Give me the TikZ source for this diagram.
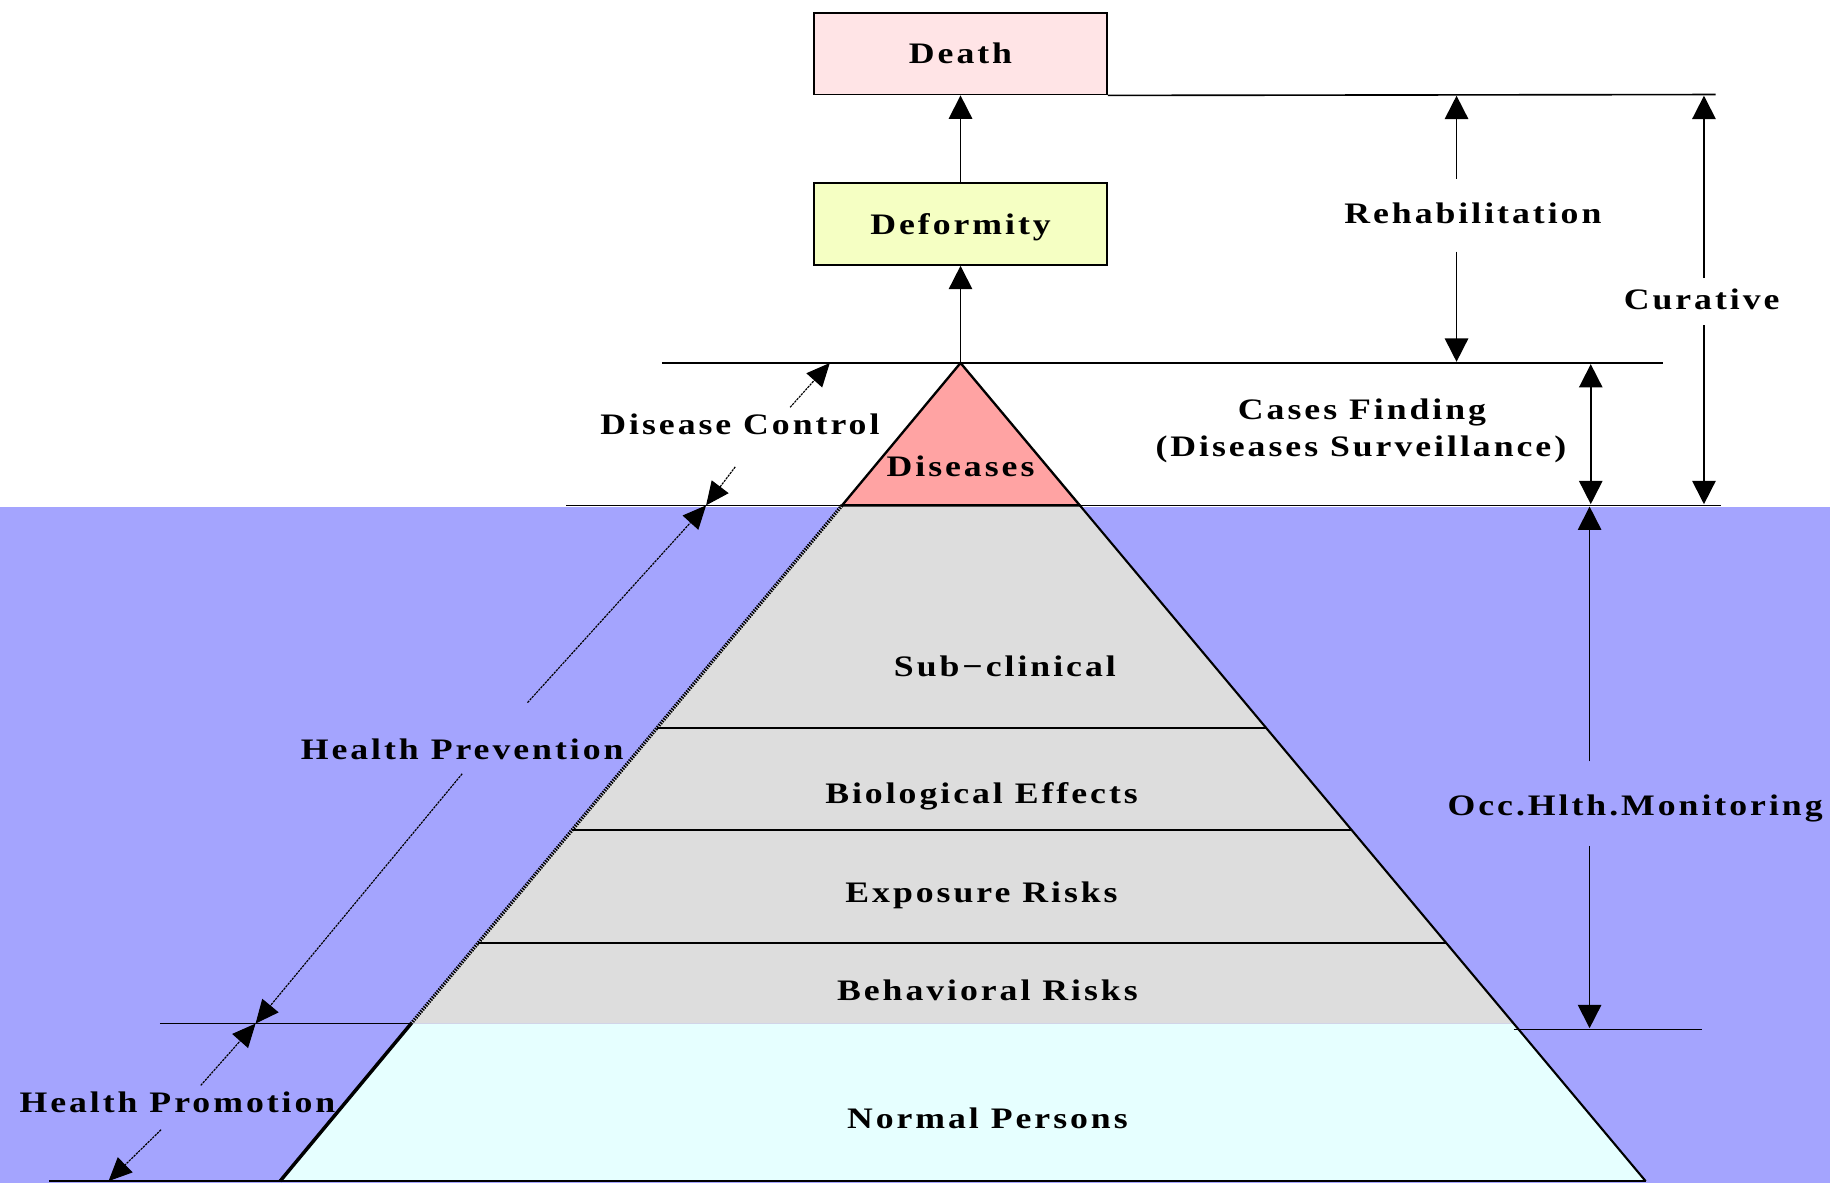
\documentclass[tikz,border=0pt]{standalone}
\usepackage{fontspec}
\setmainfont{Liberation Serif}[LetterSpace=10, FakeStretch=1.2]
\usetikzlibrary{arrows.meta}
\usetikzlibrary{positioning}

\definecolor{waterblue}{RGB}{164,164,254}
\definecolor{diseasepink}{RGB}{255,163,163}
\definecolor{layergrey}{RGB}{221,221,221}
\definecolor{normalcyan}{RGB}{230,255,255}
\definecolor{deathpink}{RGB}{255,228,230}
\definecolor{deformyellow}{RGB}{245,255,195}

\tikzset{
  lbl/.style={font=\fontsize{25.5}{29}\selectfont\bfseries, inner sep=0pt, text height=17pt, text depth=0pt},
  stagebox/.style={lbl, draw, line width=1.5pt, minimum width=251pt, minimum height=70pt},
  arr/.style={line width=1.5pt, -{Triangle[length=20pt,width=20pt]}},
  twoarr/.style={line width=1.5pt, {Triangle[length=20pt,width=20pt]}-{Triangle[length=20pt,width=20pt]}},
  slantarr/.style={line width=1pt, dash pattern=on 2pt off 0.8pt, -{Triangle[length=20pt,width=18pt]}},
  rule/.style={line width=1.4pt},
}

\begin{document}
\begin{tikzpicture}[x=1pt,y=-1pt]
\useasboundingbox (0,0) rectangle (1568,1014);
\fill[waterblue] (0,434) rectangle (1568,1014);

% pyramid corners and layer edges
\coordinate (apex) at (823,311);
\coordinate (dl) at (721.5,433);  \coordinate (dr) at (925.2,433);
\coordinate (sl) at (562.7,624);  \coordinate (sr) at (1085.1,624);
\coordinate (bl) at (490.3,711);  \coordinate (br) at (1157.9,711);
\coordinate (el) at (409.7,808);  \coordinate (er) at (1239.2,808);
\coordinate (nl) at (352.3,877);  \coordinate (nr) at (1297,877);
\coordinate (basel) at (240,1012); \coordinate (baser) at (1410,1012);

% layers
\fill[normalcyan] (nl) -- (nr) -- (baser) -- (basel) -- cycle;
\fill[layergrey] (dl) -- (dr) -- (nr) -- (nl) -- cycle;
\filldraw[fill=diseasepink, line width=2pt] (apex) -- (dl) -- (dr) -- cycle;
\draw[rule] (sl) -- (sr);
\draw[rule] (bl) -- (br);
\draw[rule] (el) -- (er);
\draw[line width=3pt, dash pattern=on 1.2pt off 1pt] (dl) -- (nl);
\draw[line width=3pt] (nl) -- (basel);
\draw[line width=1.8pt] (dr) -- (baser);
\draw[line width=2pt] (42,1012) -- (baser);

% level lines
\draw[rule] (567,311) -- (1425,311);
\draw[rule] (485,433) -- (1475,433);
\draw[rule] (137,877) -- (nl);
\draw[rule] (1297,882) -- (1458,882);

% stages above the pyramid
\node[stagebox, fill=deathpink] (death) at (823,46) {Death};
\node[stagebox, fill=deformyellow] (deform) at (823,192) {Deformity};
\draw[rule] (death.south east) -- (1470,81);
\draw[arr] (deform) -- (death);
\draw[arr] (apex) -- (deform);

% pyramid labels
\node[lbl] (diseases) at (823,400) {Diseases};
\node[lbl] (subclin) at (861,571) {Sub−clinical};
\node[lbl] (bio) at (841,680) {Biological Effects};
\node[lbl] (expo) at (841,765) {Exposure Risks};
\node[lbl] (behav) at (846,849) {Behavioral Risks};
\node[lbl] (normal) at (846,958) {Normal Persons};

% right side ranges
\coordinate (rehabtop) at (1248,82);
\coordinate (rehabbot) at (1248,310);
\coordinate (curtop) at (1460,82);
\coordinate (curbot) at (1460,432);
\coordinate (cftop) at (1363,312);
\coordinate (cfbot) at (1363,432);
\coordinate (occtop) at (1362,434);
\coordinate (occbot) at (1362,881);

\node[lbl] (rehab) at (1262,183) {Rehabilitation};
\draw[arr, shorten <=21pt] (rehab.north -| rehabtop) -- (rehabtop);
\draw[arr, shorten <=24pt] (rehab.south -| rehabbot) -- (rehabbot);

\node[lbl] (curative) at (1458,257) {Curative};
\draw[arr, shorten <=10pt] (curative.north -| curtop) -- (curtop);
\draw[arr, shorten <=13pt] (curative.south -| curbot) -- (curbot);

\node[lbl] (cases) at (1167,351) {Cases Finding};
\node[lbl] (surveil) at (1166,383) {(Diseases Surveillance)};
\draw[twoarr] (cftop) -- (cfbot);

\node[lbl] (occ) at (1401,690) {Occ.Hlth.Monitoring};
\draw[arr, shorten <=29pt] (occ.north -| occtop) -- (occtop);
\draw[arr, shorten <=26pt] (occ.south -| occbot) -- (occbot);

% left side ranges along the slope
\coordinate (dctip) at (711,311);
\coordinate (dctail) at (677,349);
\coordinate (dclow) at (630,400);
\coordinate (cut1) at (605,433);
\coordinate (hptail) at (452,602);
\coordinate (hplow) at (396,663);
\coordinate (cut2) at (219,877);
\coordinate (hmtail) at (172,930);
\coordinate (hmlow) at (138,968);
\coordinate (cut3) at (93,1012);

\node[lbl] (control) at (634,364) {Disease Control};
\draw[slantarr] (dctail) -- (dctip);
\draw[slantarr] (dclow) -- (cut1);

\node[lbl] (prevent) at (396,642) {Health Prevention};
\draw[slantarr] (hptail) -- (cut1);
\draw[slantarr] (hplow) -- (cut2);

\node[lbl] (promote) at (152,945) {Health Promotion};
\draw[slantarr] (hmtail) -- (cut2);
\draw[slantarr] (hmlow) -- (cut3);
\end{tikzpicture}
\end{document}
